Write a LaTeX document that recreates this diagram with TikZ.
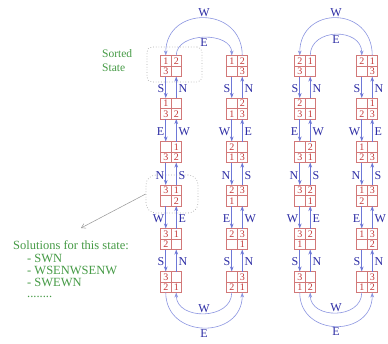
\documentclass[tikz,border=0pt]{standalone}
\usepackage{fontspec}
\setmainfont{Liberation Serif}
\usetikzlibrary{arrows.meta}
\definecolor{boxred}{RGB}{210,120,120}
\definecolor{digred}{RGB}{195,55,55}
\definecolor{arrblue}{RGB}{110,120,215}
\definecolor{arcblue}{RGB}{140,150,225}
\definecolor{lblblue}{RGB}{45,45,165}
\definecolor{txtgreen}{RGB}{70,155,70}
\definecolor{dashgray}{RGB}{175,175,175}
\definecolor{ptrgray}{RGB}{150,150,150}
\tikzset{
 sbox/.style={draw=boxred, line width=0.6pt, minimum width=21pt, minimum height=21pt, inner sep=0pt, outer sep=0pt},
 gridln/.style={draw=boxred, line width=0.6pt},
 digit/.style={text=digred, font=\fontsize{10}{10}\selectfont, inner sep=0pt},
 tr/.style={draw=arrblue, line width=0.9pt, -{Stealth[length=5pt,width=3.6pt]}},
 arcline/.style={draw=arcblue, line width=0.6pt, -{Stealth[length=5pt,width=3.6pt]}},
 lbl/.style={text=lblblue, font=\fontsize{12}{12}\selectfont, inner sep=1pt},
 sel/.style={draw=dashgray, dotted, line width=0.7pt},
 note/.style={text=txtgreen, font=\fontsize{12.5}{12}\selectfont, inner sep=0pt, anchor=base west},
 pointer/.style={draw=ptrgray, line width=0.5pt, -{Straight Barb[length=4pt,width=5pt]}},
}
\newcommand\stbox[6]{%
 \node[sbox] (#1) at (#2) {};
 \draw[gridln] (#1.north) -- (#1.south) (#1.west) -- (#1.east);
 \node[digit] at ([shift={(-5.25,-5.25)}]#1.center) {#3};
 \node[digit] at ([shift={(5.25,-5.25)}]#1.center) {#4};
 \node[digit] at ([shift={(-5.25,5.25)}]#1.center) {#5};
 \node[digit] at ([shift={(5.25,5.25)}]#1.center) {#6};
}
\newcommand\link[4]{%
 \draw[tr] ([xshift=-5.25pt]#1.south) -- node[lbl,left,yshift=-1.5pt]{#3} ([xshift=-5.25pt]#2.north);
 \draw[tr] ([xshift=5.25pt]#2.north) -- node[lbl,right,xshift=1pt,yshift=-1.5pt]{#4} ([xshift=5.25pt]#1.south);
}
\begin{document}
\begin{tikzpicture}[x=1pt,y=-1pt]
\useasboundingbox (0,0) rectangle (388,343);
\fill[white] (0,0) rectangle (388,343);
% dotted highlight shapes
\node[sel, rounded corners=5pt, minimum width=55pt, minimum height=35pt] (sorted) at (174.5,64.5) {};
\node[sel, rounded corners=10pt, minimum width=52pt, minimum height=38pt] (cur) at (172,194) {};
% column 1
\stbox{a1}{171,66}{1}{2}{3}{}
\stbox{a2}{171,108.5}{1}{}{3}{2}
\stbox{a3}{171,152}{}{1}{3}{2}
\stbox{a4}{171,195.5}{3}{1}{}{2}
\stbox{a5}{171,239}{3}{1}{2}{}
\stbox{a6}{171,282}{3}{}{2}{1}
% column 2
\stbox{b1}{237,66}{1}{2}{}{3}
\stbox{b2}{237,108.5}{}{2}{1}{3}
\stbox{b3}{237,152}{2}{}{1}{3}
\stbox{b4}{237,195.5}{2}{3}{1}{}
\stbox{b5}{237,239}{2}{3}{}{1}
\stbox{b6}{237,282}{}{3}{2}{1}
% column 3
\stbox{c1}{305,66}{2}{1}{3}{}
\stbox{c2}{305,108.5}{2}{}{3}{1}
\stbox{c3}{305,152}{}{2}{3}{1}
\stbox{c4}{305,195.5}{3}{2}{}{1}
\stbox{c5}{305,239}{3}{2}{1}{}
\stbox{c6}{305,282}{3}{}{1}{2}
% column 4
\stbox{d1}{367,66}{2}{1}{}{3}
\stbox{d2}{367,108.5}{}{1}{2}{3}
\stbox{d3}{367,152}{1}{}{2}{3}
\stbox{d4}{367,195.5}{1}{3}{2}{}
\stbox{d5}{367,239}{1}{3}{}{2}
\stbox{d6}{367,282}{}{3}{1}{2}
% vertical transitions
\link{a1}{a2}{S}{N}\link{a2}{a3}{E}{W}\link{a3}{a4}{N}{S}\link{a4}{a5}{W}{E}\link{a5}{a6}{S}{N}
\link{b1}{b2}{S}{N}\link{b2}{b3}{W}{E}\link{b3}{b4}{N}{S}\link{b4}{b5}{E}{W}\link{b5}{b6}{S}{N}
\link{c1}{c2}{S}{N}\link{c2}{c3}{E}{W}\link{c3}{c4}{N}{S}\link{c4}{c5}{W}{E}\link{c5}{c6}{S}{N}
\link{d1}{d2}{S}{N}\link{d2}{d3}{W}{E}\link{d3}{d4}{N}{S}\link{d4}{d5}{E}{W}\link{d5}{d6}{S}{N}
% top arcs
\draw[arcline] ([xshift=5.25pt]b1.north) .. controls +(0,-50) and +(0,-50) .. node[lbl,pos=0.5,above] {W} ([xshift=-5.25pt]a1.north);
\draw[arcline] ([xshift=5.25pt]a1.north) .. controls +(0,-24) and +(0,-24) .. node[lbl,pos=0.5,below] {E} ([xshift=-5.25pt]b1.north);
\draw[arcline] ([xshift=5.25pt]d1.north) .. controls +(0,-50) and +(0,-50) .. node[lbl,pos=0.5,above] {W} ([xshift=-5.25pt]c1.north);
\draw[arcline] ([xshift=5.25pt]c1.north) .. controls +(0,-28) and +(0,-28) .. node[lbl,pos=0.5,below] {E} ([xshift=-5.25pt]d1.north);
% bottom arcs
\draw[arcline] ([xshift=-5.25pt]b6.south) .. controls +(0,28) and +(0,28) .. node[lbl,pos=0.5,above] {W} ([xshift=5.25pt]a6.south);
\draw[arcline] ([xshift=-5.25pt]a6.south) .. controls +(0,47) and +(0,47) .. node[lbl,pos=0.5,below=1pt] {E} ([xshift=5.25pt]b6.south);
\draw[arcline] ([xshift=-5.25pt]d6.south) .. controls +(0,27) and +(0,27) .. node[lbl,pos=0.5,above] {W} ([xshift=5.25pt]c6.south);
\draw[arcline] ([xshift=-5.25pt]c6.south) .. controls +(0,45) and +(0,45) .. node[lbl,pos=0.5,below] {E} ([xshift=5.25pt]d6.south);
% annotations
\node[note, font=\fontsize{11.5}{11}\selectfont] (sortlbl1) at (102,57) {Sorted};
\node[note, font=\fontsize{11.5}{11}\selectfont] (sortlbl2) at (102,71) {State};
\node[note] (soltitle) at (13,249) {Solutions for this state:};
\node[note] (sol1) at (27,262) {- SWN};
\node[note] (sol2) at (27,274) {- WSENWSENW};
\node[note] (sol3) at (27,286) {- SWEWN};
\node[note] (sol4) at (27,297) {........};
\coordinate (solpt) at (81,228);
\draw[pointer] (cur.west) -- (solpt);
\end{tikzpicture}
\end{document}
